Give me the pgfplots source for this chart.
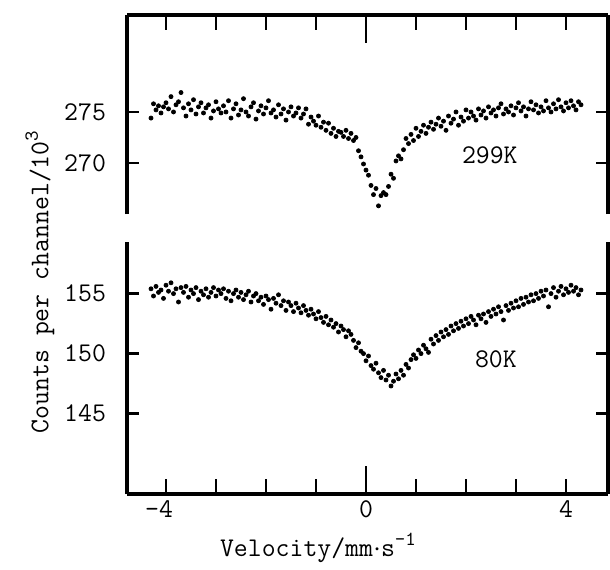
\documentclass[border=0pt]{standalone}
\usepackage{pgfplots}
\pgfplotsset{compat=1.18}

% Mossbauer spectra, 299 K and 80 K
\pgfplotstableread{
x y
-4.30 274.4
-4.25 275.8
-4.20 275.2
-4.15 275.6
-4.10 274.9
-4.05 275.5
-4.00 275.9
-3.95 275.3
-3.90 276.5
-3.85 275.0
-3.80 275.7
-3.75 276.0
-3.70 276.9
-3.65 275.4
-3.60 274.6
-3.55 275.8
-3.50 275.2
-3.45 276.2
-3.40 274.8
-3.35 275.5
-3.30 275.9
-3.25 274.9
-3.20 275.4
-3.15 275.7
-3.10 274.4
-3.05 275.1
-3.00 276.0
-2.95 275.3
-2.90 274.9
-2.85 275.6
-2.80 275.0
-2.75 276.1
-2.70 274.4
-2.65 275.3
-2.60 275.8
-2.55 274.7
-2.50 275.2
-2.45 276.3
-2.40 275.0
-2.35 274.6
-2.30 275.5
-2.25 275.9
-2.20 274.3
-2.15 275.1
-2.10 275.6
-2.05 274.8
-2.00 275.4
-1.95 276.1
-1.90 274.9
-1.85 275.2
-1.80 274.5
-1.75 275.7
-1.70 274.8
-1.65 275.3
-1.60 274.2
-1.55 275.0
-1.50 275.5
-1.45 274.6
-1.40 274.9
-1.35 275.4
-1.30 274.4
-1.25 274.8
-1.20 275.3
-1.15 273.8
-1.10 274.5
-1.05 274.1
-1.00 273.7
-0.95 274.6
-0.90 273.5
-0.85 274.0
-0.80 273.2
-0.75 273.9
-0.70 272.9
-0.65 273.4
-0.60 272.6
-0.55 273.1
-0.50 273.0
-0.45 272.6
-0.40 273.2
-0.35 272.4
-0.30 272.9
-0.25 272.2
-0.20 272.5
-0.15 271.2
-0.10 270.6
-0.05 269.9
0.00 269.3
0.05 268.8
0.10 267.8
0.15 266.9
0.20 267.5
0.25 265.8
0.30 266.8
0.35 267.1
0.40 266.9
0.45 267.7
0.50 268.9
0.55 268.5
0.60 270.2
0.65 270.7
0.70 270.4
0.75 271.3
0.80 272.4
0.85 271.9
0.90 272.8
0.95 272.2
1.00 273.4
1.05 272.6
1.10 273.1
1.15 273.7
1.20 272.9
1.25 273.5
1.30 274.0
1.35 273.3
1.40 273.8
1.45 274.4
1.50 273.6
1.55 274.1
1.60 273.2
1.65 274.6
1.70 273.9
1.75 274.3
1.80 275.0
1.85 273.7
1.90 274.5
1.95 274.1
2.00 275.2
2.05 274.4
2.10 275.0
2.15 274.6
2.20 274.2
2.25 275.3
2.30 274.7
2.35 275.1
2.40 274.4
2.45 275.5
2.50 274.9
2.55 275.2
2.60 274.6
2.65 275.4
2.70 275.8
2.75 274.8
2.80 275.3
2.85 275.0
2.90 275.6
2.95 274.7
3.00 275.4
3.05 275.9
3.10 275.1
3.15 275.5
3.20 274.6
3.25 275.3
3.30 276.0
3.35 275.2
3.40 275.7
3.45 274.9
3.50 275.5
3.55 275.1
3.60 276.1
3.65 275.4
3.70 275.0
3.75 275.8
3.80 275.3
3.85 276.2
3.90 275.5
3.95 275.1
4.00 275.9
4.05 275.4
4.10 276.1
4.15 275.6
4.20 275.2
4.25 276.0
4.30 275.7
}\warmdata

\pgfplotstableread{
x y
-4.30 155.4
-4.25 154.8
-4.20 155.6
-4.15 155.1
-4.10 155.3
-4.05 154.6
-4.00 155.7
-3.95 155.2
-3.90 155.9
-3.85 155.0
-3.80 155.4
-3.75 154.3
-3.70 155.5
-3.65 155.1
-3.60 155.6
-3.55 154.7
-3.50 155.3
-3.45 155.0
-3.40 155.5
-3.35 154.5
-3.30 155.2
-3.25 154.9
-3.20 155.4
-3.15 154.7
-3.10 155.1
-3.05 155.5
-3.00 154.8
-2.95 155.3
-2.90 155.0
-2.85 155.4
-2.80 154.6
-2.75 155.2
-2.70 154.4
-2.65 155.0
-2.60 155.3
-2.55 154.7
-2.50 155.1
-2.45 154.5
-2.40 154.9
-2.35 155.2
-2.30 154.3
-2.25 154.8
-2.20 155.0
-2.15 154.4
-2.10 154.7
-2.05 154.1
-2.00 154.8
-1.95 154.5
-1.90 153.7
-1.85 154.6
-1.80 154.2
-1.75 154.9
-1.70 154.0
-1.65 154.4
-1.60 153.6
-1.55 154.3
-1.50 154.0
-1.45 153.5
-1.40 154.2
-1.35 153.8
-1.30 153.4
-1.25 154.0
-1.20 153.6
-1.15 153.2
-1.10 153.7
-1.05 153.3
-1.00 152.9
-0.95 153.5
-0.90 153.0
-0.85 152.6
-0.80 153.1
-0.75 152.4
-0.70 152.8
-0.65 152.2
-0.60 152.5
-0.55 151.8
-0.50 152.3
-0.45 152.0
-0.40 151.4
-0.35 151.9
-0.30 151.6
-0.25 151.1
-0.20 150.5
-0.15 150.9
-0.10 150.2
-0.05 150.0
0.00 149.4
0.05 149.8
0.10 149.0
0.15 148.7
0.20 149.2
0.25 148.4
0.30 148.0
0.35 148.6
0.40 147.8
0.45 148.2
0.50 147.3
0.55 147.7
0.60 148.3
0.65 147.9
0.70 148.6
0.75 148.2
0.80 149.1
0.85 148.8
0.90 149.5
0.95 149.9
1.00 149.6
1.05 150.3
1.10 150.0
1.15 150.7
1.20 150.4
1.25 150.1
1.30 151.2
1.35 150.8
1.40 151.5
1.45 151.1
1.50 151.8
1.55 151.4
1.60 152.0
1.65 151.6
1.70 152.3
1.75 151.9
1.80 152.5
1.85 152.1
1.90 152.7
1.95 152.3
2.00 152.9
2.05 152.5
2.10 153.1
2.15 152.8
2.20 152.4
2.25 153.2
2.30 152.9
2.35 153.3
2.40 152.6
2.45 153.5
2.50 153.1
2.55 153.7
2.60 153.3
2.65 153.9
2.70 153.5
2.75 152.8
2.80 154.0
2.85 153.6
2.90 154.2
2.95 153.8
3.00 154.4
3.05 153.9
3.10 154.6
3.15 154.1
3.20 154.7
3.25 154.3
3.30 154.9
3.35 154.4
3.40 155.0
3.45 154.6
3.50 155.2
3.55 154.8
3.60 155.3
3.65 153.9
3.70 155.0
3.75 155.5
3.80 154.7
3.85 155.2
3.90 155.6
3.95 154.9
4.00 155.4
4.05 155.1
4.10 155.7
4.15 155.2
4.20 155.5
4.25 154.9
4.30 155.3
}\colddata

\pgfplotsset{
  moss/.style={
    scale only axis, width=240.5pt,
    xmin=-4.78, xmax=4.84,
    axis y line*=box,
    axis line style={line width=1.75pt},
    tick align=inside,
    major tick length=0pt,
    xtick={-4,-3,-2,-1,1,2,3,4},
    extra x ticks={0},
    ytick pos=both,
    yticklabel style={xshift=-7pt},
    clip=false,
  },
  mossdot/.style={only marks, mark=*, mark size=1.0pt, black},
}
\tikzset{mosstick/.style={line width=1.4pt}}

\begin{document}
\begin{tikzpicture}[font=\fontsize{13.5}{16}\selectfont\ttfamily]
\path (0,0) rectangle (305pt,283.5pt);

% upper panel, 299 K
\begin{axis}[moss, at={(63.5pt,176.5pt)}, anchor=south west, height=99.5pt,
  ymin=265, ymax=284.5, axis x line*=top,
  xticklabels={}, extra x tick labels={},
  ytick={270,275}, yticklabels={270,275}]
\addplot[mossdot] table[x=x,y=y] {\warmdata};
\pgfplotsinvokeforeach{-4,-3,-2,-1,1,2,3,4}{
  \draw[mosstick] (axis cs:#1,284.5) -- ++(0pt,-7.5pt);
}
\draw[mosstick] (axis cs:0,284.5) -- ++(0pt,-14pt);
\pgfplotsinvokeforeach{270,275}{
  \draw[mosstick] (axis cs:-4.78,#1) -- ++(6pt,0pt);
  \draw[mosstick] (axis cs:4.84,#1) -- ++(-6pt,0pt);
}
\node[anchor=west] at (axis cs:1.78,270.8) {299K};
\end{axis}

% lower panel, 80 K
\begin{axis}[moss, at={(63.5pt,36.5pt)}, anchor=south west, height=126pt,
  ymin=138.3, ymax=159.3, axis x line*=bottom,
  xticklabels={\llap{-}4,,,,,,,4}, extra x tick labels={0},
  ytick={145,150,155}, yticklabels={145,150,155}]
\addplot[mossdot] table[x=x,y=y] {\colddata};
\pgfplotsinvokeforeach{-4,-3,-2,-1,1,2,3,4}{
  \draw[mosstick] (axis cs:#1,138.3) -- ++(0pt,7.5pt);
}
\draw[mosstick] (axis cs:0,138.3) -- ++(0pt,14pt);
\pgfplotsinvokeforeach{145,150,155}{
  \draw[mosstick] (axis cs:-4.78,#1) -- ++(6pt,0pt);
  \draw[mosstick] (axis cs:4.84,#1) -- ++(-6pt,0pt);
}
\node[anchor=west] at (axis cs:2.04,149.5) {80K};
\end{axis}

\node[rotate=90] at (20pt,142.5pt) {Counts per channel/10\raisebox{0.9ex}{\fontsize{10}{12}\selectfont 3}};
\node at (159pt,9.5pt) {Velocity/mm$\cdot$s\raisebox{0.9ex}{\fontsize{10}{12}\selectfont -1}};
\end{tikzpicture}
\end{document}
